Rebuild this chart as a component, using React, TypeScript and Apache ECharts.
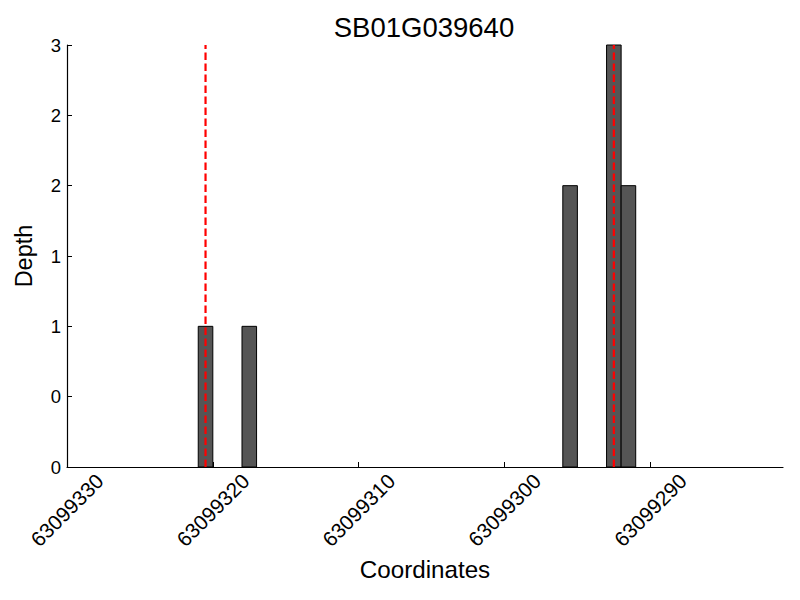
import React, { useEffect, useRef } from "react";
import * as echarts from "echarts";

// ---- data ----
const chartTitle = "SB01G039640";
const barStarts = [63099320, 63099317, 63099295, 63099292, 63099291];
const depths = [1, 1, 2, 3, 2];
const markerPositions = [63099320.5, 63099292.5];
const xTickValues = [63099330, 63099320, 63099310, 63099300, 63099290];
const yTickValues = [0, 0.5, 1, 1.5, 2, 2.5, 3];
const xMin = 63099280.9;
const xMax = 63099330;
const yMin = 0;
const yMax = 3;
const BAR_SPAN = 1;

const FONT = "Liberation Sans, Arial, Helvetica, sans-serif";

export default function App() {
  const ref = useRef<HTMLDivElement>(null);

  useEffect(() => {
    if (!ref.current) return;
    const chart = echarts.init(ref.current, undefined, { renderer: "svg" });

    const barData = barStarts.map((x, i) => [x, depths[i]]);
    const lineSeries = markerPositions.map((m) => ({
      type: "line",
      data: [
        [m, yMin],
        [m, yMax],
      ],
      symbol: "none",
      lineStyle: { color: "#ff0000", width: 2.2, type: [7.6, 3.4] },
      z: 5,
      silent: true,
    }));

    chart.setOption({
      animation: false,
      backgroundColor: "#ffffff",
      title: {
        text: chartTitle,
        left: 419,
        top: 8,
        textAlign: "center",
        textStyle: { fontFamily: FONT, fontSize: 27.5, fontWeight: "normal", color: "#000" },
      },
      grid: { left: 67, right: 17, top: 45, bottom: 133, containLabel: false },
      xAxis: {
        type: "value",
        inverse: true,
        min: xMin,
        max: xMax,
        name: "Coordinates",
        nameLocation: "middle",
        nameGap: 85,
        nameTextStyle: { fontFamily: FONT, fontSize: 24.2, color: "#000" },
        axisLine: { show: true, onZero: false, lineStyle: { color: "#000", width: 1.2 } },
        axisTick: { show: true, inside: true, length: 5, customValues: xTickValues, lineStyle: { color: "#000" } },
        axisLabel: {
          customValues: xTickValues,
          rotate: 45,
          align: "center",
          verticalAlign: "middle",
          margin: 43,
          fontFamily: FONT,
          fontSize: 20.8,
          color: "#000",
          formatter: (v: number) => String(Math.round(v)),
        },
        splitLine: { show: false },
      },
      yAxis: {
        type: "value",
        min: yMin,
        max: yMax,
        name: "Depth",
        nameLocation: "middle",
        nameGap: 31,
        nameTextStyle: { fontFamily: FONT, fontSize: 23.5, color: "#000" },
        axisLine: { show: true, lineStyle: { color: "#000", width: 1.2 } },
        axisTick: { show: true, inside: true, length: 5, customValues: yTickValues, lineStyle: { color: "#000" } },
        axisLabel: {
          customValues: yTickValues,
          margin: 6,
          fontFamily: FONT,
          fontSize: 18.5,
          color: "#000",
          formatter: (v: number) => String(Math.floor(v)),
        },
        splitLine: { show: false },
      },
      series: [
        {
          type: "custom",
          data: barData,
          encode: { x: 0, y: 1 },
          z: 2,
          renderItem: (params: any, api: any) => {
            const x0 = api.value(0);
            const y = api.value(1);
            const p1 = api.coord([x0, y]);
            const p2 = api.coord([x0 + BAR_SPAN, yMin]);
            return {
              type: "rect",
              shape: {
                x: Math.min(p1[0], p2[0]),
                y: p1[1],
                width: Math.abs(p2[0] - p1[0]),
                height: p2[1] - p1[1],
              },
              style: { fill: "#555555", stroke: "#000000", lineWidth: 1 },
            };
          },
        },
        ...lineSeries,
      ],
    });

    return () => chart.dispose();
  }, []);

  return (
    <div
      ref={ref}
      style={{ position: "fixed", left: 0, top: 0, width: 800, height: 600, background: "#fff" }}
    />
  );
}
